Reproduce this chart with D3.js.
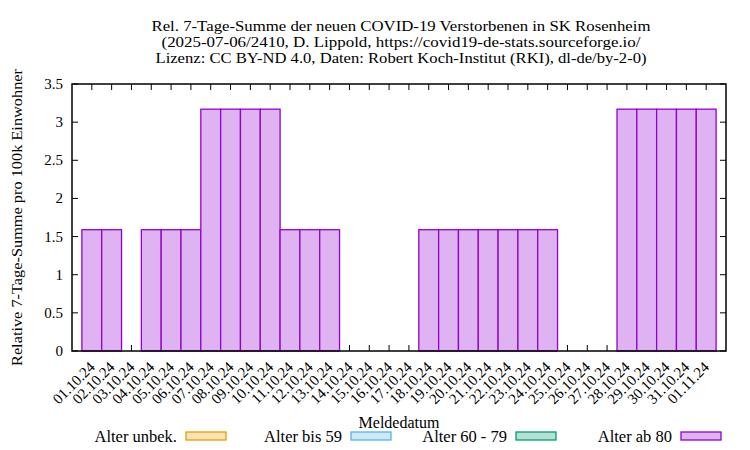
<!DOCTYPE html>
<html>
<head>
<meta charset="utf-8">
<script src="https://cdn.jsdelivr.net/npm/d3@7"></script>
<style>
  body { margin: 0; background: #fff; }
  text { font-family: "Liberation Serif", "Times New Roman", serif; fill: #000; }
</style>
</head>
<body>
<div id="chart"></div>
<script>
var titleLines = [
  "Rel. 7-Tage-Summe der neuen COVID-19 Verstorbenen in SK Rosenheim",
  "(2025-07-06/2410, D. Lippold, https://covid19-de-stats.sourceforge.io/",
  "Lizenz: CC BY-ND 4.0, Daten: Robert Koch-Institut (RKI), dl-de/by-2-0)"
];
var titleWidths = [499, 479, 491];

var dates = ["01.10.24", "02.10.24", "03.10.24", "04.10.24", "05.10.24", "06.10.24",
  "07.10.24", "08.10.24", "09.10.24", "10.10.24", "11.10.24", "12.10.24", "13.10.24",
  "14.10.24", "15.10.24", "16.10.24", "17.10.24", "18.10.24", "19.10.24", "20.10.24",
  "21.10.24", "22.10.24", "23.10.24", "24.10.24", "25.10.24", "26.10.24", "27.10.24",
  "28.10.24", "29.10.24", "30.10.24", "31.10.24", "01.11.24"];

// Alter ab 80 (other age groups are zero in this period)
var ab80 = [1.59, 1.59, 0, 1.59, 1.59, 1.59, 3.17, 3.17, 3.17, 3.17, 1.59, 1.59, 1.59,
  0, 0, 0, 0, 1.59, 1.59, 1.59, 1.59, 1.59, 1.59, 1.59, 0, 0, 0,
  3.17, 3.17, 3.17, 3.17, 3.17];

var yTicks = [0, 0.5, 1, 1.5, 2, 2.5, 3, 3.5];

var legendNames = ["Alter unbek.", "Alter bis 59", "Alter 60 - 79", "Alter ab 80"];
var legendColors = ["#e69f00", "#56b4e9", "#009e73", "#9400d3"];

var width = 750, height = 450;
var margin = {top: 84, right: 24, bottom: 99, left: 72};

var svg = d3.select("#chart").append("svg")
    .attr("width", width)
    .attr("height", height);

// index scale: bar centers at 0..31, range padded by one bar on each side
var x = d3.scaleLinear()
    .domain([-1, dates.length])
    .range([margin.left, width - margin.right]);

var y = d3.scaleLinear()
    .domain([0, 3.5])
    .range([height - margin.bottom, margin.top]);

var x0 = x.range()[0], x1 = x.range()[1];
var y0 = y.range()[0], y1 = y.range()[1];

function lighten(c) {
  return d3.interpolateRgb("#ffffff", c)(0.3);
}

// title
svg.append("g").selectAll("text")
    .data(titleLines)
  .enter().append("text")
    .attr("x", (x0 + x1) / 2 + 2)
    .attr("y", function(d, i) { return 30.5 + i * 16.3; })
    .attr("text-anchor", "middle")
    .attr("textLength", function(d, i) { return titleWidths[i]; })
    .attr("lengthAdjust", "spacingAndGlyphs")
    .style("font-size", "15.5px")
    .text(function(d) { return d; });

// ticks (inward, mirrored)
var tickLen = 6;
var ticks = svg.append("g").attr("stroke", "#000").attr("stroke-width", 1);
dates.forEach(function(d, i) {
  ticks.append("line").attr("x1", x(i)).attr("x2", x(i)).attr("y1", y0).attr("y2", y0 - tickLen);
  ticks.append("line").attr("x1", x(i)).attr("x2", x(i)).attr("y1", y1).attr("y2", y1 + tickLen);
});
yTicks.forEach(function(t) {
  ticks.append("line").attr("x1", x0).attr("x2", x0 + tickLen).attr("y1", y(t)).attr("y2", y(t));
  ticks.append("line").attr("x1", x1).attr("x2", x1 - tickLen).attr("y1", y(t)).attr("y2", y(t));
});

// bars
var bw = x(1) - x(0);
var barData = ab80.map(function(v, i) { return {i: i, v: v}; })
    .filter(function(d) { return d.v > 0; });
svg.append("g").selectAll("rect")
    .data(barData)
  .enter().append("rect")
    .attr("x", function(d) { return x(d.i) - bw / 2; })
    .attr("y", function(d) { return y(d.v); })
    .attr("width", bw)
    .attr("height", function(d) { return y(0) - y(d.v); })
    .attr("fill", lighten(legendColors[3]))
    .attr("stroke", legendColors[3])
    .attr("stroke-width", 1.3);

// border
svg.append("rect")
    .attr("x", x0).attr("y", y1)
    .attr("width", x1 - x0).attr("height", y0 - y1)
    .attr("fill", "none")
    .attr("stroke", "#000")
    .attr("stroke-width", 1.5);

// y tick labels
svg.append("g").selectAll("text")
    .data(yTicks)
  .enter().append("text")
    .attr("x", x0 - 9)
    .attr("y", function(d) { return y(d) + 5; })
    .attr("text-anchor", "end")
    .style("font-size", "15px")
    .text(function(d) { return d; });

// x tick labels
svg.append("g").selectAll("text")
    .data(dates)
  .enter().append("text")
    .attr("text-anchor", "end")
    .attr("transform", function(d, i) { return "translate(" + (x(i) + 4) + "," + 368 + ") rotate(-45)"; })
    .style("font-size", "15px")
    .text(function(d) { return d; });

// axis titles
svg.append("text")
    .attr("transform", "translate(22," + ((y0 + y1) / 2) + ") rotate(-90)")
    .attr("text-anchor", "middle")
    .attr("textLength", 297)
    .attr("lengthAdjust", "spacingAndGlyphs")
    .style("font-size", "15.5px")
    .text("Relative 7-Tage-Summe pro 100k Einwohner");

svg.append("text")
    .attr("x", (x0 + x1) / 2)
    .attr("y", 428)
    .attr("text-anchor", "middle")
    .style("font-size", "16px")
    .text("Meldedatum");

// legend
var leg = svg.append("g").selectAll("g")
    .data(legendNames)
  .enter().append("g")
    .attr("transform", function(d, i) { return "translate(" + (177 + i * 165) + ",0)"; });
leg.append("text")
    .attr("x", 0)
    .attr("y", 442)
    .attr("text-anchor", "end")
    .style("font-size", "16.5px")
    .text(function(d) { return d; });
leg.append("rect")
    .attr("x", 9).attr("y", 432)
    .attr("width", 40).attr("height", 8)
    .attr("fill", function(d, i) { return lighten(legendColors[i]); })
    .attr("stroke", function(d, i) { return legendColors[i]; })
    .attr("stroke-width", 1.3);
</script>
</body>
</html>
